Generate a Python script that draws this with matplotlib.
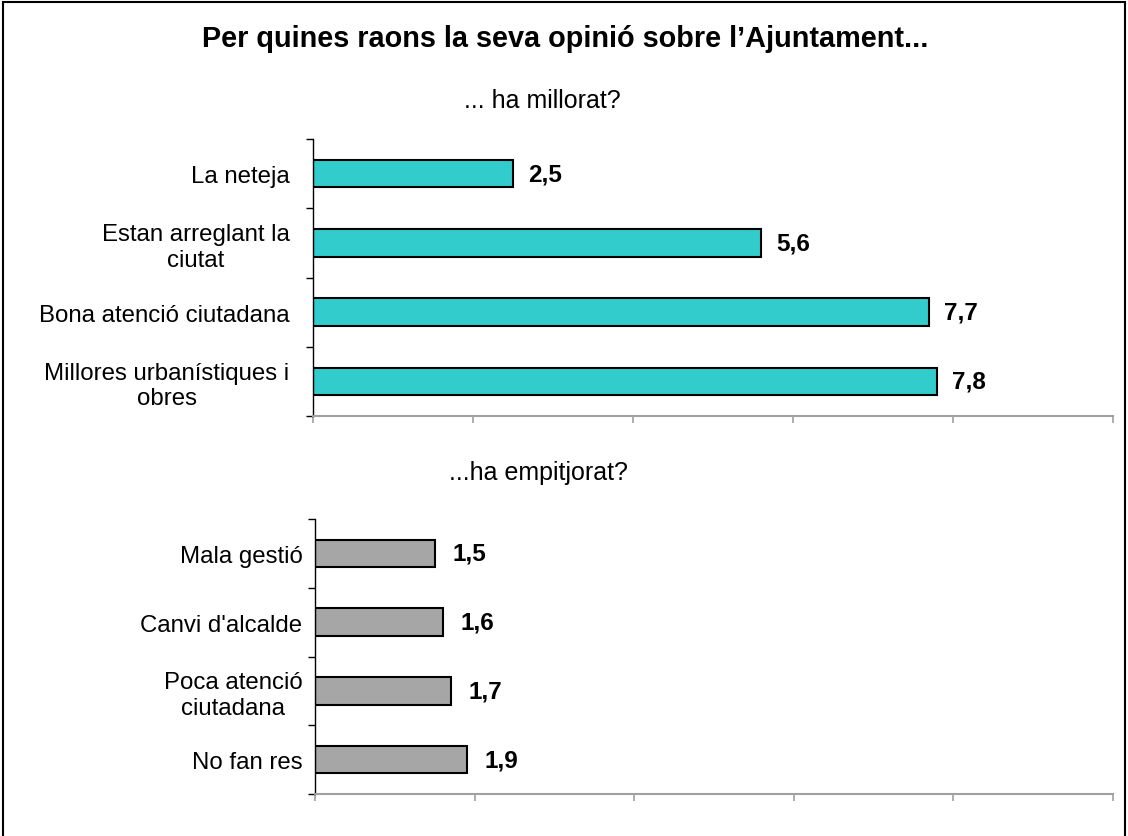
import matplotlib.pyplot as plt
import matplotlib.patches as mpatches

plt.rcParams['font.family'] = ['Liberation Sans', 'DejaVu Sans']

# Dades
cat_millor = ['La neteja', 'Estan arreglant la\nciutat', 'Bona atenció ciutadana',
              'Millores urbanístiques i\nobres']
val_millor = [2.5, 5.6, 7.7, 7.8]
cat_pitjor = ['Mala gestió', "Canvi d'alcalde", 'Poca atenció\nciutadana', 'No fan res']
val_pitjor = [1.5, 1.6, 1.7, 1.9]


def barres(ax, cats, vals, color, pad, off):
    n = len(cats)
    pos = list(range(n))
    ax.barh(pos, vals, height=0.4, color=color, edgecolor='black', linewidth=1.5)
    ax.set_xlim(0, 10)
    ax.set_ylim(n - 0.5, -0.5)
    # ticks a les fronteres de categoria
    ax.set_yticks([i - 0.5 for i in range(n + 1)])
    ax.set_yticklabels([])
    ax.set_yticks(pos, minor=True)
    ax.set_yticklabels(cats, minor=True, fontsize=17.3)
    for lab in ax.get_yticklabels(minor=True):
        lab.set_multialignment('center')
    ax.tick_params(axis='y', which='major', length=5, width=1, color='black', direction='out')
    ax.tick_params(axis='y', which='minor', length=0, pad=pad)
    ax.set_xticks(range(0, 11, 2))
    ax.set_xticklabels([])
    ax.tick_params(axis='x', length=5, width=1.2, color='#a0a0a0', direction='out')
    for s in ['top', 'right']:
        ax.spines[s].set_visible(False)
    ax.spines['bottom'].set_color('#a0a0a0')
    ax.spines['bottom'].set_linewidth(1.5)
    ax.spines['left'].set_color('black')
    ax.spines['left'].set_linewidth(1)
    for p, v in zip(pos, vals):
        ax.annotate(f'{v:.1f}'.replace('.', ','), (v, p), xytext=(off, 0),
                    textcoords='offset points', va='center', ha='left',
                    fontsize=17.5, fontweight='bold')


fig = plt.figure(figsize=(11.28, 8.37), dpi=100)

ax1 = fig.add_axes([0.2775, 0.5018, 0.7092, 0.3309])
barres(ax1, cat_millor, val_millor, '#33cccc', 17, 11)

ax2 = fig.add_axes([0.2793, 0.0502, 0.7074, 0.3285])
barres(ax2, cat_pitjor, val_pitjor, '#a6a6a6', 9, 12.5)

fig.text(0.501, 0.953, 'Per quines raons la seva opinió sobre l’Ajuntament...',
         ha='center', va='center', fontsize=20.8, fontweight='bold')
fig.text(0.4805, 0.879, '... ha millorat?', ha='center', va='center', fontsize=18)
fig.text(0.477, 0.435, '...ha empitjorat?', ha='center', va='center', fontsize=18)

fig.patches.append(mpatches.Rectangle((0.003, -0.01), 0.994, 1.006, transform=fig.transFigure,
                                      fill=False, edgecolor='black', linewidth=1.5))

fig.savefig('out.png', dpi=100)
